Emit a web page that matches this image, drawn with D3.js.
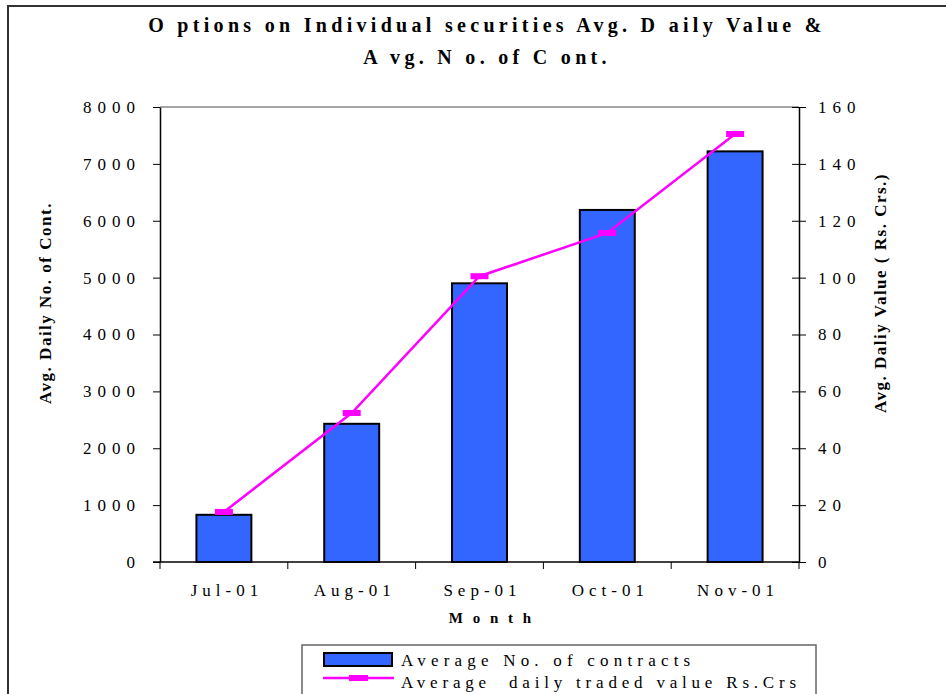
<!DOCTYPE html>
<html>
<head>
<meta charset="utf-8">
<script src="https://cdn.jsdelivr.net/npm/d3@7"></script>
<style>
  body { margin: 0; background: #fff; }
</style>
</head>
<body>
<div id="myPlot"></div>
<script>
// Set Dimensions
const xSize = 946;
const ySize = 694;
const margin = { top: 107, right: 147, bottom: 132, left: 160 };
const xMax = xSize - margin.left - margin.right;
const yMax = ySize - margin.top - margin.bottom;
const serif = '"Liberation Serif", "Times New Roman", serif';

// Data
const months = ["Jul-01", "Aug-01", "Sep-01", "Oct-01", "Nov-01"];
const avg_contracts = [830, 2430, 4900, 6190, 7220];
const avg_value = [17.6, 52.4, 100.5, 115.7, 150.5];
const left_ticks = [0, 1000, 2000, 3000, 4000, 5000, 6000, 7000, 8000];
const right_ticks = [0, 20, 40, 60, 80, 100, 120, 140, 160];

const svgRoot = d3.select("#myPlot")
  .append("svg")
  .attr("width", xSize)
  .attr("height", ySize)
  .style("font-family", serif);

// outer frame
svgRoot.append("rect")
  .attr("x", 8).attr("y", 6)
  .attr("width", 960).attr("height", 720)
  .attr("fill", "none")
  .attr("stroke", "#333")
  .attr("stroke-width", 2);

// Title
const title = svgRoot.append("text")
  .attr("text-anchor", "middle")
  .style("font-family", serif)
  .style("font-size", "20px")
  .style("font-weight", "bold")
  .style("letter-spacing", "4.3px");
title.append("tspan").attr("x", 487).attr("y", 32)
  .text("O ptions on Individual securities Avg. D aily Value &");
title.append("tspan").attr("x", 487).attr("y", 64)
  .text("A vg. N o. of C ont.");

const svg = svgRoot.append("g")
  .attr("transform", `translate(${margin.left},${margin.top})`);

// Scales
const x = d3.scaleBand()
  .domain(months)
  .range([0, xMax])
  .paddingInner(0.57)
  .paddingOuter(0.285);

const xOuter = d3.scaleBand()
  .domain(months)
  .range([0, xMax]);

const y = d3.scaleLinear().domain([0, 8000]).range([yMax, 0]);
const y2 = d3.scaleLinear().domain([0, 160]).range([yMax, 0]);

// plot area top border (gray)
svg.append("line")
  .attr("x1", 0).attr("x2", xMax)
  .attr("y1", 0).attr("y2", 0)
  .attr("stroke", "#888")
  .attr("stroke-width", 1.5);

// Bars
svg.append("g")
  .selectAll(".bar")
  .data(months)
  .enter()
  .append("rect")
  .attr("class", "bar")
  .attr("x", d => x(d))
  .attr("y", (d, i) => y(avg_contracts[i]))
  .attr("width", x.bandwidth())
  .attr("height", (d, i) => yMax - y(avg_contracts[i]))
  .style("fill", "#3366FF")
  .style("stroke", "#000")
  .style("stroke-width", 2);

// Left axis
const yAxis = svg.append("g")
  .call(d3.axisLeft(y).tickValues(left_ticks).tickFormat(d3.format("d"))
    .tickSize(7).tickSizeOuter(0).tickPadding(12));
yAxis.selectAll("text")
  .style("font-family", serif)
  .style("font-size", "17px")
  .style("letter-spacing", "6px");
yAxis.select(".domain").attr("stroke-width", 1.5);

// Right axis (ticks cross the line)
const y2Axis = svg.append("g")
  .attr("transform", `translate(${xMax},0)`)
  .call(d3.axisRight(y2).tickValues(right_ticks).tickFormat(d3.format("d"))
    .tickSize(7).tickSizeOuter(0).tickPadding(12));
y2Axis.selectAll(".tick line").attr("x1", -7);
y2Axis.selectAll("text")
  .style("font-family", serif)
  .style("font-size", "17px")
  .style("letter-spacing", "6px");
y2Axis.select(".domain").attr("stroke-width", 1.5);

// Bottom axis with ticks at category boundaries
const xAxis = svg.append("g")
  .attr("transform", `translate(0,${yMax})`);
xAxis.append("line")
  .attr("x1", -7).attr("x2", xMax)
  .attr("stroke", "#000").attr("stroke-width", 1.5);
xAxis.selectAll(".sep")
  .data(months.concat(["end"]))
  .enter()
  .append("line")
  .attr("x1", (d, i) => i < months.length ? xOuter(d) : xMax)
  .attr("x2", (d, i) => i < months.length ? xOuter(d) : xMax)
  .attr("y1", 0).attr("y2", 7)
  .attr("stroke", "#000");
xAxis.selectAll(".lbl")
  .data(months)
  .enter()
  .append("text")
  .attr("x", d => xOuter(d) + xOuter.bandwidth() / 2 + 3)
  .attr("y", 34)
  .attr("text-anchor", "middle")
  .style("font-family", serif)
  .style("font-size", "17px")
  .style("letter-spacing", "5px")
  .text(d => d);

// x-axis label
svg.append("text")
  .attr("x", xMax / 2 + 12)
  .attr("y", yMax + 61)
  .attr("text-anchor", "middle")
  .style("font-family", serif)
  .style("font-size", "15px")
  .style("font-weight", "bold")
  .style("letter-spacing", "3px")
  .text("M o n t h");

// y-axis labels
svg.append("text")
  .attr("transform", "rotate(-90)")
  .attr("x", -196)
  .attr("y", -109)
  .attr("text-anchor", "middle")
  .style("font-family", serif)
  .style("font-size", "17px")
  .style("font-weight", "bold")
  .style("letter-spacing", "1.5px")
  .text("Avg. Daily No. of Cont.");

svg.append("text")
  .attr("transform", "rotate(-90)")
  .attr("x", -186)
  .attr("y", xMax + 87)
  .attr("text-anchor", "middle")
  .style("font-family", serif)
  .style("font-size", "17px")
  .style("font-weight", "bold")
  .style("letter-spacing", "1.5px")
  .text("Avg. Daliy Value ( Rs. Crs.)");

// Line
const line = d3.line()
  .x((d, i) => xOuter(months[i]) + xOuter.bandwidth() / 2)
  .y(d => y2(d));

svg.append("path")
  .datum(avg_value)
  .attr("d", line)
  .attr("fill", "none")
  .attr("stroke", "#FF00FF")
  .attr("stroke-width", 2.5);

svg.append("g")
  .selectAll(".mk")
  .data(avg_value)
  .enter()
  .append("rect")
  .attr("x", (d, i) => xOuter(months[i]) + xOuter.bandwidth() / 2 - 9)
  .attr("y", d => y2(d) - 3)
  .attr("width", 18)
  .attr("height", 6)
  .attr("fill", "#FF00FF");

// Legend
const legend = svgRoot.append("g");
legend.append("rect")
  .attr("x", 302).attr("y", 645)
  .attr("width", 514).attr("height", 80)
  .attr("fill", "#fff")
  .attr("stroke", "#666")
  .attr("stroke-width", 1.5);
legend.append("rect")
  .attr("x", 324).attr("y", 653)
  .attr("width", 68).attr("height", 13)
  .attr("fill", "#3366FF")
  .attr("stroke", "#000")
  .attr("stroke-width", 2);
legend.append("line")
  .attr("x1", 323).attr("x2", 394)
  .attr("y1", 678).attr("y2", 678)
  .attr("stroke", "#FF00FF")
  .attr("stroke-width", 2.5);
legend.append("rect")
  .attr("x", 349).attr("y", 675)
  .attr("width", 19).attr("height", 6)
  .attr("fill", "#FF00FF");
legend.append("text")
  .attr("x", 401).attr("y", 666)
  .style("font-family", serif)
  .style("font-size", "17px")
  .style("letter-spacing", "5.2px")
  .text("Average No. of contracts");
legend.append("text")
  .attr("x", 401).attr("y", 688)
  .style("font-family", serif)
  .style("font-size", "17px")
  .style("letter-spacing", "4.8px")
  .style("white-space", "pre")
  .text("Average  daily traded value Rs.Crs");
</script>
</body>
</html>
